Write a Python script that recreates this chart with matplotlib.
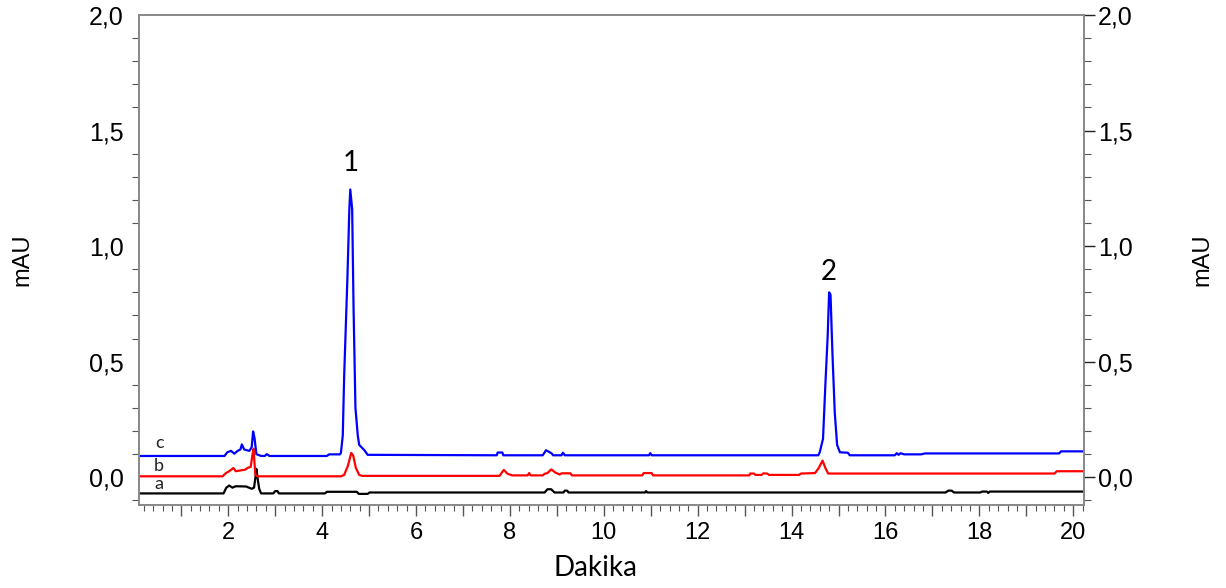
import matplotlib
matplotlib.use("Agg")
import matplotlib.pyplot as plt
from matplotlib.ticker import MultipleLocator, FuncFormatter

plt.rcParams['font.family'] = ['Liberation Sans', 'DejaVu Sans']

# Chromatogram traces (time in min, absorbance in mAU)
# trace a - black
t_a = [0.1, 1.90, 1.96, 2.02, 2.09, 2.16, 2.38, 2.50, 2.55, 2.58, 2.60, 2.63, 2.66, 2.70,
       2.96, 3.00, 3.05, 3.08, 4.06, 4.10, 4.74, 4.78, 4.97, 5.01, 8.74, 8.80, 8.88, 8.95,
       9.14, 9.17, 9.22, 9.25, 10.88, 10.90, 10.93, 17.28, 17.34, 17.41, 17.46, 18.02, 18.06,
       18.16, 18.19, 18.22, 20.23]
mau_a = [-0.07, -0.07, -0.045, -0.036, -0.045, -0.039, -0.04, -0.05, -0.045, 0.0, 0.036, -0.01, -0.05, -0.07,
         -0.07, -0.06, -0.06, -0.07, -0.07, -0.063, -0.063, -0.072, -0.072, -0.066, -0.066, -0.052, -0.052, -0.066,
         -0.066, -0.058, -0.058, -0.066, -0.066, -0.06, -0.066, -0.066, -0.058, -0.058, -0.066, -0.066, -0.062,
         -0.062, -0.068, -0.062, -0.062]

# trace b - red
t_b = [0.1, 1.88, 1.95, 2.02, 2.11, 2.16, 2.27, 2.35, 2.41, 2.48, 2.51, 2.54, 2.56, 2.58, 2.62,
       4.40, 4.47, 4.55, 4.62, 4.66, 4.72, 4.79, 4.85, 7.78, 7.87, 7.95, 8.05, 8.38, 8.41, 8.44,
       8.70, 8.74, 8.80, 8.88, 8.97, 9.06, 9.10, 9.29, 9.32, 10.82, 10.85, 11.02, 11.05,
       13.10, 13.12, 13.20, 13.23, 13.36, 13.40, 13.48, 13.52, 14.16, 14.20, 14.50, 14.58,
       14.66, 14.72, 14.78, 19.60, 19.65, 20.23]
mau_b = [0.004, 0.004, 0.018, 0.026, 0.04, 0.026, 0.03, 0.032, 0.04, 0.045, 0.09, 0.123, 0.06, 0.01, 0.004,
         0.004, 0.01, 0.05, 0.105, 0.095, 0.04, 0.01, 0.006, 0.006, 0.032, 0.015, 0.008, 0.008, 0.018, 0.008,
         0.008, 0.015, 0.018, 0.034, 0.02, 0.012, 0.017, 0.017, 0.008, 0.008, 0.018, 0.018, 0.008,
         0.008, 0.016, 0.016, 0.01, 0.01, 0.017, 0.016, 0.01, 0.01, 0.016, 0.018, 0.04,
         0.072, 0.04, 0.016, 0.016, 0.026, 0.026]

# trace c - blue
t_c = [0.1, 1.92, 1.98, 2.06, 2.13, 2.20, 2.26, 2.29, 2.34, 2.45, 2.50, 2.53, 2.56, 2.60, 2.70,
       2.78, 2.82, 2.88, 4.10, 4.15, 4.38, 4.40, 4.44, 4.47, 4.54, 4.58, 4.60, 4.64, 4.67, 4.71,
       4.76, 4.79, 4.90, 4.97, 7.72, 7.74, 7.84, 7.86, 8.70, 8.77, 8.89, 8.92, 9.10, 9.13, 9.17,
       10.96, 10.99, 11.02, 14.57, 14.60, 14.67, 14.72, 14.77, 14.80, 14.83, 14.87, 14.92, 14.97,
       15.03, 15.20, 15.24, 16.20, 16.24, 16.28, 16.32, 16.40, 16.76, 16.84, 19.70, 19.74, 20.23]
mau_c = [0.092, 0.092, 0.108, 0.114, 0.102, 0.114, 0.12, 0.142, 0.12, 0.114, 0.13, 0.198, 0.17, 0.10, 0.092,
         0.092, 0.10, 0.092, 0.092, 0.099, 0.099, 0.105, 0.18, 0.44, 0.87, 1.16, 1.245, 1.16, 0.73, 0.30,
         0.18, 0.14, 0.117, 0.097, 0.095, 0.107, 0.107, 0.095, 0.095, 0.117, 0.103, 0.095, 0.095, 0.106, 0.095,
         0.095, 0.104, 0.095, 0.095, 0.108, 0.166, 0.40, 0.615, 0.80, 0.79, 0.54, 0.28, 0.14,
         0.108, 0.106, 0.095, 0.095, 0.104, 0.097, 0.104, 0.099, 0.099, 0.103, 0.103, 0.112, 0.112]

trace_labels = ['a', 'b', 'c']
trace_label_y = [-0.03, 0.05, 0.15]
peak_labels = ['1', '2']
peak_time = [4.60, 14.80]
peak_label_y = [1.36, 0.89]

fig = plt.figure(figsize=(12.26, 5.88), dpi=100)
ax = fig.add_axes([0.1134, 0.1412, 0.7708, 0.8333])

ax.plot(t_a, mau_a, color='black', lw=1.6)
ax.plot(t_b, mau_b, color='#ff0000', lw=1.6)
ax.plot(t_c, mau_c, color='#0000ff', lw=1.6)

ax.set_xlim(0.1, 20.23)
ax.set_ylim(-0.12, 2.0)

# trace letters and peak numbers
for lab, y in zip(trace_labels, trace_label_y):
    ax.text(0.53, y, lab, fontsize=13, family='Lato', ha='center', va='center', color='#222222')
for lab, x, y in zip(peak_labels, peak_time, peak_label_y):
    ax.text(x, y, lab, fontsize=20, family='Lato', ha='center', va='center')

comma = FuncFormatter(lambda v, p: f'{v:.1f}'.replace('.', ','))
even_only = FuncFormatter(lambda v, p: f'{int(round(v))}' if int(round(v)) % 2 == 0 else '')

# x axis
ax.xaxis.set_major_locator(MultipleLocator(1))
ax.xaxis.set_minor_locator(MultipleLocator(0.2))
ax.xaxis.set_major_formatter(even_only)
ax.tick_params(axis='x', which='major', length=8, width=1, color='#555555', labelsize=17, pad=4)
ax.tick_params(axis='x', which='minor', length=4, width=0.8, color='#555555')
# axis title sits a bit left of centre in the original
fig.text(595 / 1226, 1 - 568 / 588, 'Dakika', fontsize=20, family='Lato', ha='center', va='center')

# left y axis
ax.yaxis.set_major_locator(MultipleLocator(0.5))
ax.yaxis.set_minor_locator(MultipleLocator(0.1))
ax.yaxis.set_major_formatter(comma)
ax.tick_params(axis='y', which='major', length=0, labelsize=18, pad=11)
ax.tick_params(axis='y', which='minor', length=5, width=0.8, color='#555555')
ax.set_ylabel('mAU', fontsize=17, labelpad=40)

# right y axis, same scale
ax2 = ax.twinx()
ax2.set_ylim(ax.get_ylim())
ax2.yaxis.set_major_locator(MultipleLocator(0.5))
ax2.yaxis.set_minor_locator(MultipleLocator(0.1))
ax2.yaxis.set_major_formatter(comma)
ax2.tick_params(axis='y', which='major', length=8, width=1, color='#222222', labelsize=18, pad=2)
ax2.tick_params(axis='y', which='minor', length=5, width=0.8, color='#555555')
ax2.set_ylabel('mAU', fontsize=17, labelpad=42)

for a in (ax, ax2):
    for s in a.spines.values():
        s.set_color('#888888')
        s.set_linewidth(1.2)

fig.savefig('out.png', dpi=100)
